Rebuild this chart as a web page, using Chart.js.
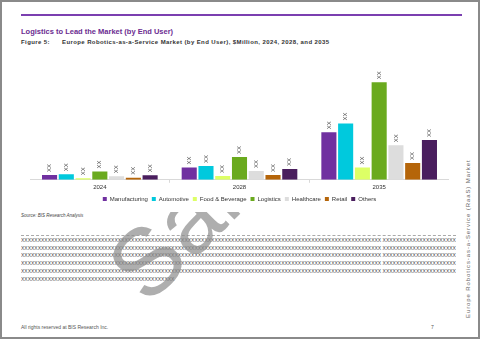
<!DOCTYPE html>
<html>
<head>
<meta charset="utf-8">
<script src="https://cdn.jsdelivr.net/npm/chart.js@4.4.0/dist/chart.umd.min.js"></script>
<style>
  body { margin: 0; width: 480px; height: 339px; overflow: hidden; background: #fff; font-family: "Liberation Sans", Arial, sans-serif; }
  #page { position: absolute; left: 0; top: 0; width: 476px; height: 335px; border: 2px solid #8a8a8a; overflow: hidden; }
  #rule { position: absolute; left: 19px; top: 12px; width: 441px; height: 2px; background: #7b3fb0; }
  #title { position: absolute; left: 19px; top: 25px; font-size: 7.5px; font-weight: bold; color: #6b2c91; }
  #fig { position: absolute; left: 19px; top: 37px; font-size: 6px; font-weight: bold; color: #333; letter-spacing: 0.4px; white-space: nowrap; }
  #fig span { position: absolute; left: 41px; }
  #wmClip { position: absolute; left: 0; top: 208px; width: 300px; height: 120px; overflow: hidden; }
  #watermark { position: absolute; left: 84px; top: 35px; font-size: 95px; line-height: 1.15; color: rgba(140,140,140,0.7); transform: rotate(-45deg); transform-origin: left top; white-space: nowrap; }
  #chartBox { position: absolute; left: 28px; top: 61px; width: 419px; height: 149px; background: #fff; }
  #source { position: absolute; left: 19px; top: 211px; font-size: 4.5px; font-style: italic; color: #444; }
  #dash { position: absolute; left: 19px; top: 233px; width: 435px; border-top: 1px dashed #aaa; }
  .row { position: absolute; left: 19px; width: 435px; overflow: hidden; white-space: nowrap; font-size: 5px; color: #444; }
  #footer { position: absolute; left: 19px; top: 322px; font-size: 5px; color: #555; }
  #pageno { position: absolute; left: 429px; top: 322px; font-size: 5px; color: #555; }
  #side { position: absolute; left: 463px; top: 316px; font-size: 6px; color: #666; letter-spacing: 0.9px; transform: rotate(-90deg); transform-origin: left top; white-space: nowrap; }
</style>
</head>
<body>
<div id="page">
  <div id="rule"></div>
  <div id="title">Logistics to Lead the Market (by End User)</div>
  <div id="fig">Figure 5:<span>Europe Robotics-as-a-Service Market (by End User), $Million, 2024, 2028, and 2035</span></div>
  <div id="source">Source: BIS Research Analysis</div>
  <div id="dash"></div>
  <div id="rows"></div>
  <div id="wmClip"><div id="watermark">Sample</div></div>
  <div id="chartBox"><canvas id="chart"></canvas></div>
  <div id="footer">All rights reserved at BIS Research Inc.</div>
  <div id="pageno">7</div>
  <div id="side">Europe Robotics-as-a-Service (RaaS) Market</div>
</div>
<script>
// chart data ($Million)
const years = ["2024", "2028", "2035"];
const manufacturing = [5.0, 12.7, 49.3];
const automotive = [5.7, 14.3, 58.3];
const foodBeverage = [1.7, 4.0, 12.7];
const logistics = [8.7, 23.7, 101.0];
const healthcare = [3.7, 9.0, 35.7];
const retail = [2.0, 5.0, 17.3];
const others = [4.7, 11.3, 41.3];

// filler text rows below the chart
const rowTops = [235, 243, 250, 258, 266, 274];
const rowBox = document.getElementById('rows');
rowTops.forEach((t, i) => {
  const d = document.createElement('div');
  d.className = 'row';
  d.style.top = t + 'px';
  d.textContent = i === rowTops.length - 1 ? 'X'.repeat(46) : 'X'.repeat(108) + ' ' + 'X'.repeat(40);
  rowBox.appendChild(d);
});

// "XX" labels on top of every bar
const xxLabels = {
  id: 'xxLabels',
  afterDatasetsDraw(chart) {
    const ctx = chart.ctx;
    ctx.save();
    ctx.font = '6px "Liberation Sans", Arial';
    ctx.fillStyle = '#333';
    ctx.textAlign = 'left';
    ctx.textBaseline = 'middle';
    chart.data.datasets.forEach((ds, i) => {
      chart.getDatasetMeta(i).data.forEach(bar => {
        ctx.save();
        ctx.translate(bar.x, bar.y - 3);
        ctx.rotate(-Math.PI / 2);
        ctx.fillText('XX', 0, 0);
        ctx.restore();
      });
    });
    ctx.restore();
  }
};

function ds(label, data, color) {
  return { label, data, backgroundColor: color, borderWidth: 0, categoryPercentage: 0.84, barPercentage: 0.9 };
}

new Chart(document.getElementById('chart'), {
  type: 'bar',
  data: {
    labels: years,
    datasets: [
      ds('Manufacturing', manufacturing, '#7030a0'),
      ds('Automotive', automotive, '#00c9dd'),
      ds('Food & Beverage', foodBeverage, '#ddff66'),
      ds('Logistics', logistics, '#6aaa1e'),
      ds('Healthcare', healthcare, '#dddddd'),
      ds('Retail', retail, '#b5650a'),
      ds('Others', others, '#4a1e5e')
    ]
  },
  options: {
    responsive: true,
    maintainAspectRatio: false,
    animation: false,
    layout: { padding: 0 },
    plugins: {
      legend: {
        position: 'bottom',
        labels: { boxWidth: 4, boxHeight: 4, padding: 4, color: '#333', font: { size: 6, family: '"Liberation Sans", Arial' } }
      },
      tooltip: { enabled: false }
    },
    scales: {
      x: {
        grid: { display: true, drawOnChartArea: false, tickLength: 3, color: '#d9d9d9' },
        border: { color: '#d9d9d9' },
        ticks: { color: '#333', padding: 1, font: { size: 6, family: '"Liberation Sans", Arial' } }
      },
      y: { display: false, min: 0, max: 121 }
    }
  },
  plugins: [xxLabels]
});
</script>
</body>
</html>
